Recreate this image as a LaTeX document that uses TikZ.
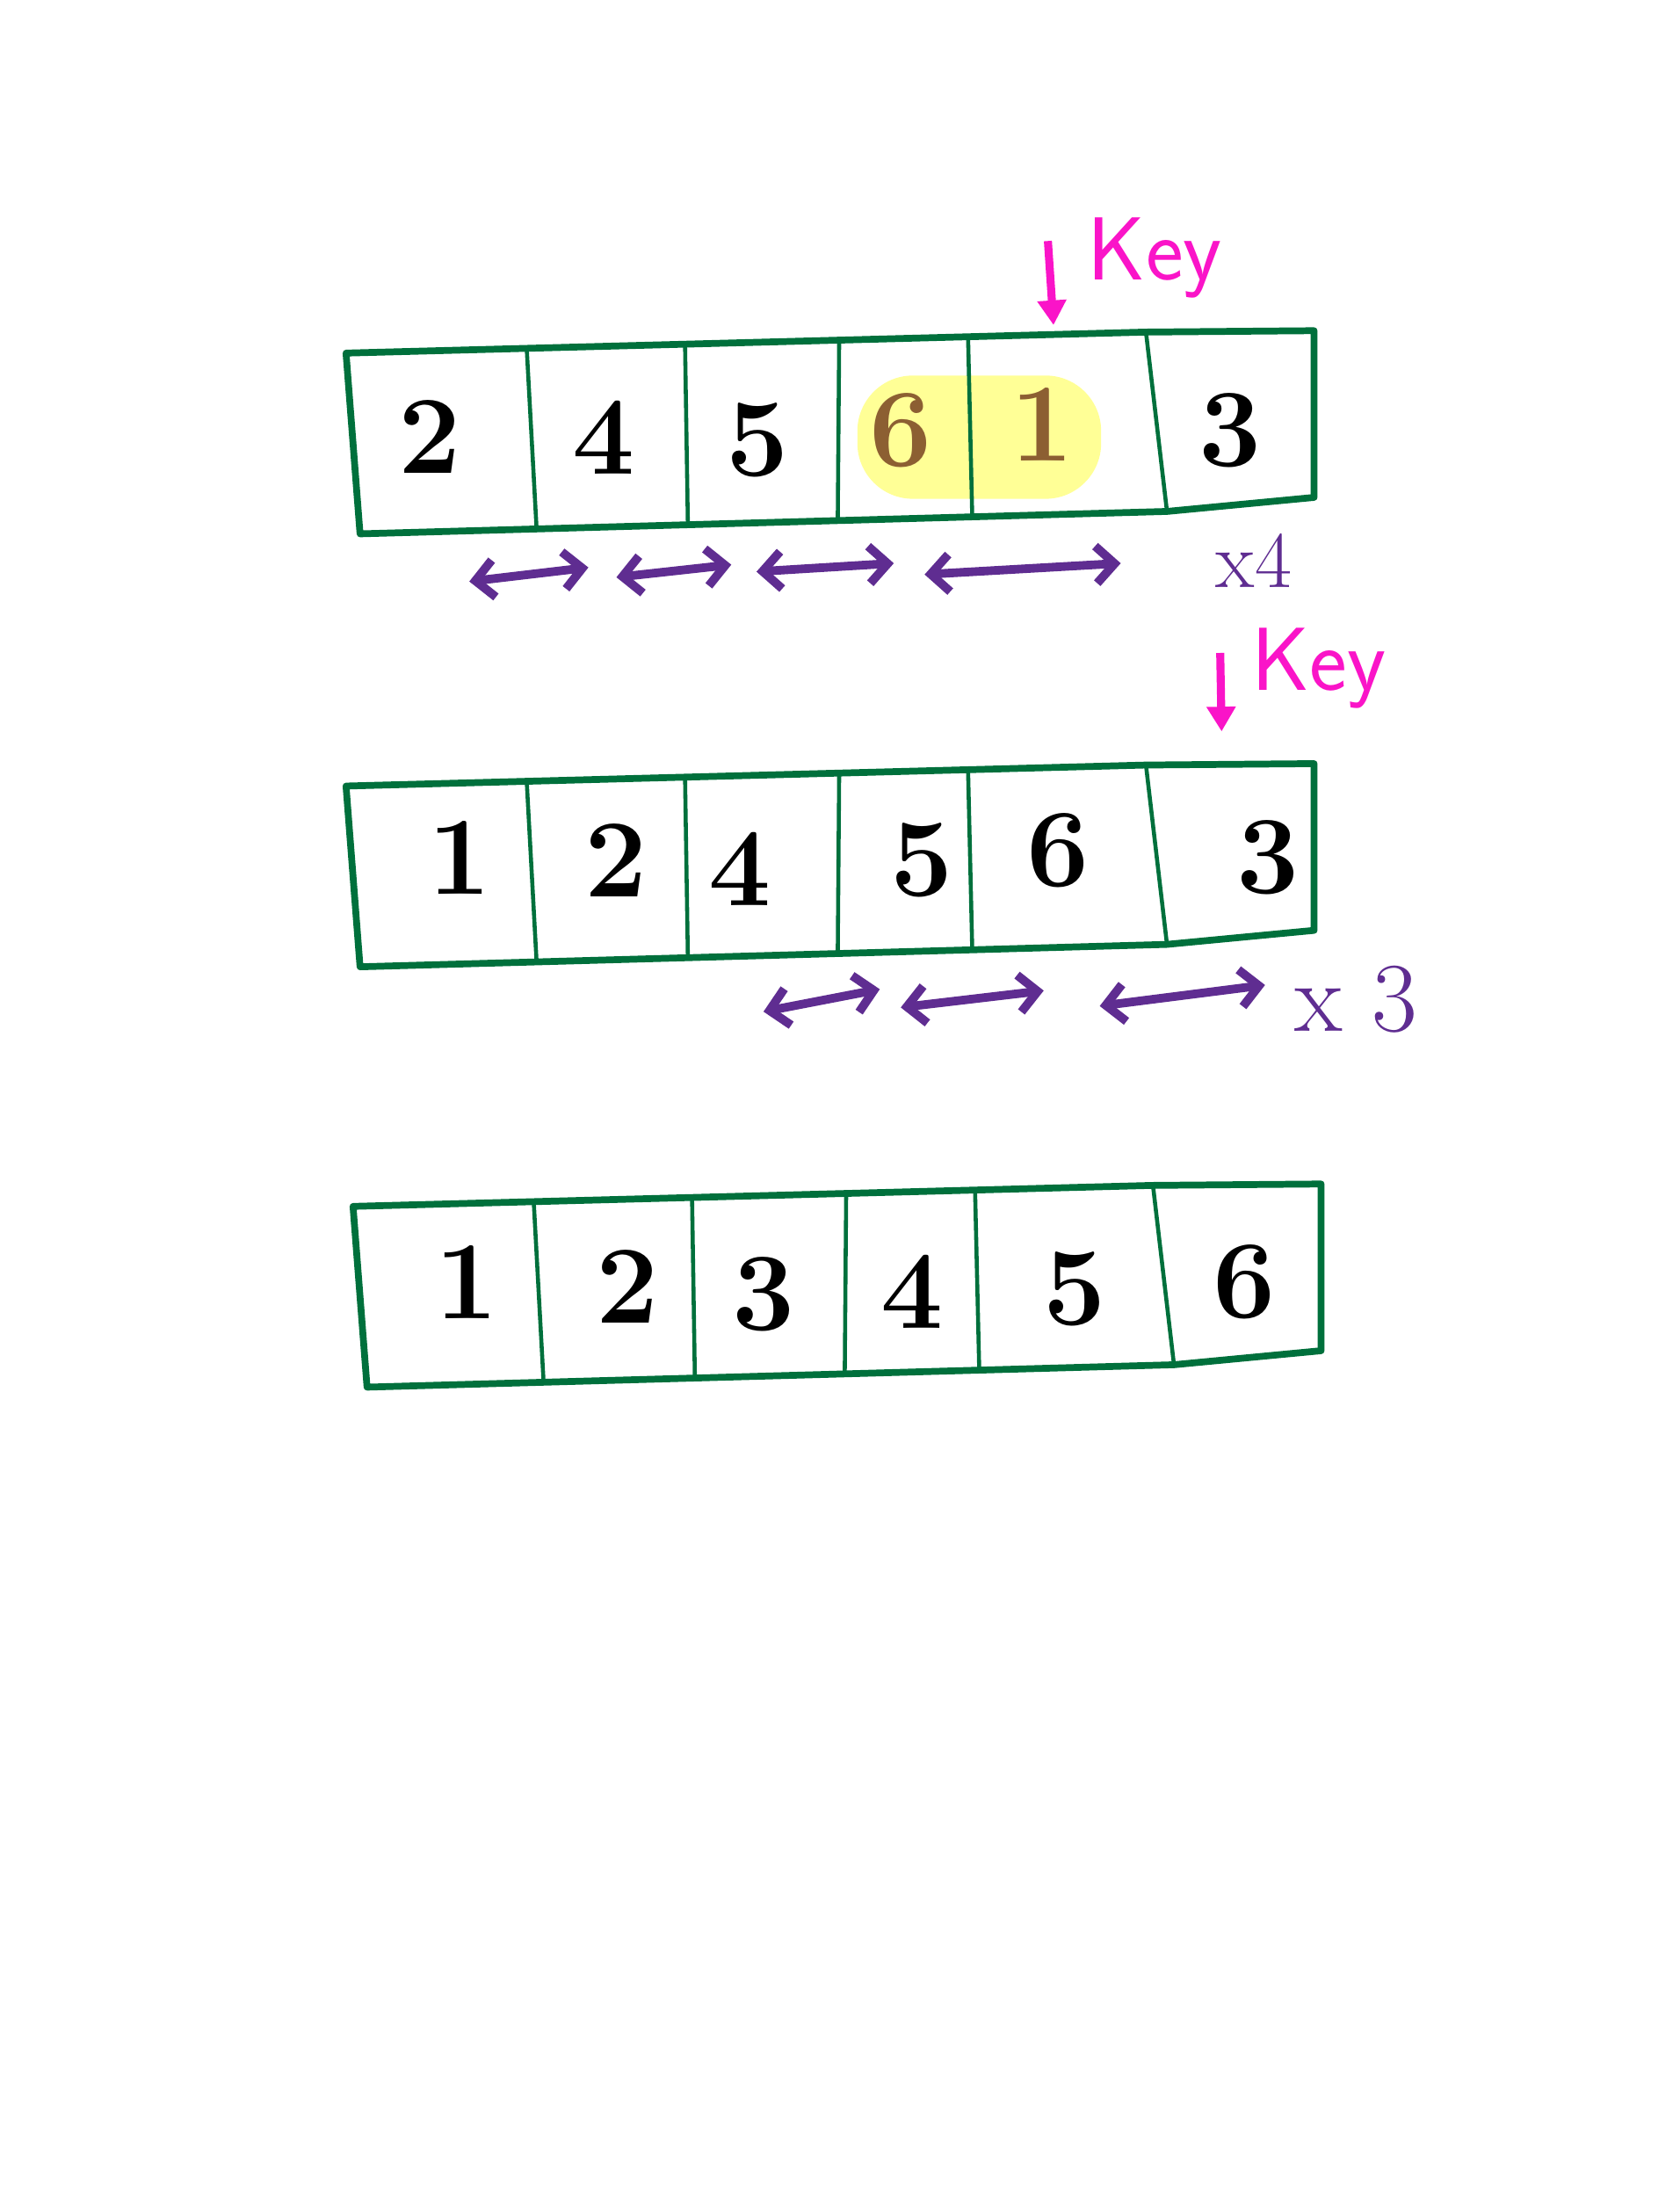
\documentclass[tikz,border=0pt]{standalone}
\usetikzlibrary{arrows.meta, positioning}
\definecolor{boxgreen}{RGB}{0,112,60}
\definecolor{keypink}{RGB}{250,20,200}
\definecolor{swappurple}{RGB}{95,45,145}
\definecolor{movedbrown}{RGB}{140,95,50}
\definecolor{markyellow}{RGB}{255,255,150}

\tikzset{
  outline/.style={draw=boxgreen, line width=2.2pt, line join=round},
  divider/.style={draw=boxgreen, line width=1.3pt},
  digit/.style={font=\fontsize{36}{40}\selectfont\bfseries, inner sep=0pt},
  keymark/.style={draw=keypink, line width=2.6pt, -{Triangle[length=8pt,width=9pt]}},
  keytext/.style={text=keypink, font=\fontsize{29}{32}\selectfont\sffamily, inner sep=0pt},
  swap/.style={draw=swappurple, line width=2.8pt, line cap=round,
    {Straight Barb[length=6pt,width=12pt]}-{Straight Barb[length=6pt,width=12pt]}},
  timestext/.style={text=swappurple, inner sep=0pt},
}

\begin{document}
\begin{tikzpicture}[x=0.015938cm, y=-0.015938cm]
  \useasboundingbox (0,0) rectangle (1199,1568);

  % marked pair in the first pass
  \fill[markyellow, rounded corners=18pt] (612,268) rectangle (786,356);

  % the three arrays
  \foreach \row/\dx/\dy in {1/0/0, 2/0/309, 3/5/609} {
    \begin{scope}[shift={(\dx,\dy)}]
      \draw[outline] (247,252) -- (818,237) -- (938,236) -- (938,355)
        -- (833,365) -- (257,381) -- cycle;
      \draw[divider] (376,249) -- (383,377);
      \draw[divider] (489,246) -- (491,374);
      \draw[divider] (599,243) -- (598,371);
      \draw[divider] (691,240) -- (694,369);
      \draw[divider] (818,237) -- (833,365);
    \end{scope}
  }

  % first pass
  \node[digit] (a1) at (307,312) {2};
  \node[digit] (a2) at (431,312) {4};
  \node[digit] (a3) at (541,314) {5};
  \node[digit, text=movedbrown] (a4) at (643,307) {6};
  \node[digit, text=movedbrown] (a5) at (744,303) {1};
  \node[digit] (a6) at (878,307) {3};

  % second pass
  \node[digit] (b1) at (328,612) {1};
  \node[digit] (b2) at (440,614) {2};
  \node[digit] (b3) at (528,620) {4};
  \node[digit] (b4) at (658,614) {5};
  \node[digit] (b5) at (755,607) {6};
  \node[digit] (b6) at (905,612) {3};

  % sorted
  \node[digit] (c1) at (333,915) {1};
  \node[digit] (c2) at (448,918) {2};
  \node[digit] (c3) at (545,924) {3};
  \node[digit] (c4) at (651,922) {4};
  \node[digit] (c5) at (767,920) {5};
  \node[digit] (c6) at (888,915) {6};

  % key markers
  \coordinate (keyA) at (748,172);
  \coordinate (keyAtip) at (752,232);
  \draw[keymark] (keyA) -- (keyAtip);
  \node[keytext, anchor=west] (keyAlabel) at (776,184) {Key};

  \coordinate (keyB) at (871,466);
  \coordinate (keyBtip) at (872,522);
  \draw[keymark] (keyB) -- (keyBtip);
  \node[keytext, anchor=west] (keyBlabel) at (893,477) {Key};

  % shifts
  \foreach \xa/\ya/\xb/\yb [count=\n] in {335/415/420/405, 440/412/522/403,
      540/408/638/402, 660/410/800/402, 545/722/628/706, 643/719/745/707,
      785/718/903/703} {
    \coordinate (s\n a) at (\xa,\ya);
    \coordinate (s\n b) at (\xb,\yb);
    \draw[swap] (s\n a) -- (s\n b);
  }
  \node[timestext, font=\fontsize{26}{30}\selectfont] (timesA) at (895,400) {x4};
  \node[timestext, font=\fontsize{32}{36}\selectfont] (timesB) at (968,713) {x 3};
\end{tikzpicture}
\end{document}
